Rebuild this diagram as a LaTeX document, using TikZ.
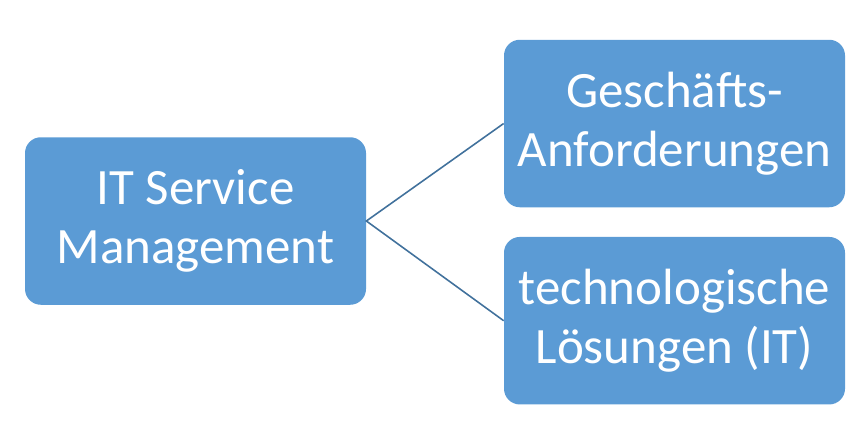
\documentclass[tikz,border=0pt]{standalone}
\usepackage{fontspec}
\setmainfont{Carlito}
\usepackage{tikz}
\usetikzlibrary{positioning}
\definecolor{boxBlue}{HTML}{5B9BD5}
\definecolor{lineBlue}{HTML}{41719C}

\begin{document}
\begin{tikzpicture}[
    box/.style={rounded corners=9pt,fill=boxBlue,text=white,align=center,
                minimum width=6.82cm,minimum height=3.35cm,inner sep=4pt,
                font=\fontsize{29}{33.5}\selectfont}]
        \useasboundingbox (0,0) rectangle (17.3,-8.68);
        \node[box] (itsm) at (3.91,-4.42) {IT Service\\Management};
        \node[box] (req) at (13.49,-2.47) {Geschäfts-\\Anforderungen};
        \node[box,below=0.58cm of req] (tech) {technologische\\Lösungen (IT)};
        \draw[lineBlue,line width=0.9pt] (req.west) -- (itsm.east) -- (tech.west);
      \end{tikzpicture}
\end{document}
